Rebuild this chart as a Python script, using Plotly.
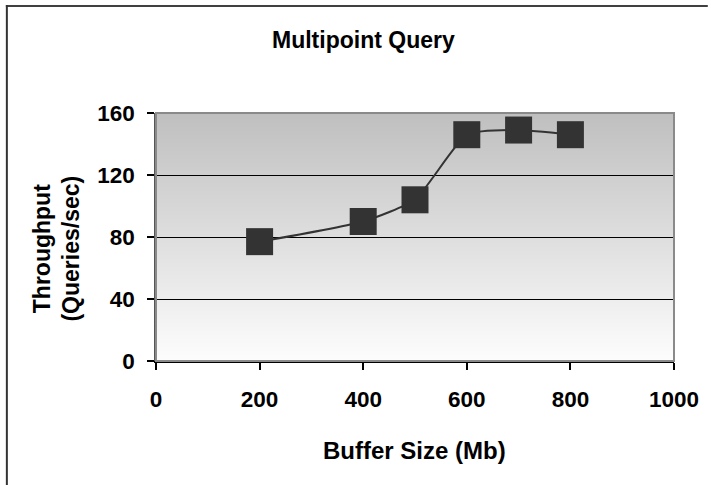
import plotly.graph_objects as go

buffer_mb = [200, 400, 500, 600, 700, 800]
throughput = [77, 90, 104, 146, 149, 146]
x_ticks = [0, 200, 400, 600, 800, 1000]
y_ticks = [0, 40, 80, 120, 160]

W, H = 711, 485
L, R, T, B = 156, 34, 113, 124
pw, ph = W - L - R, H - T - B

FONT = "Liberation Sans, Arial, sans-serif"


def px(xp):
    return (xp - L) / pw


def py(yp):
    return (H - B - yp) / ph


fig = go.Figure()
fig.add_trace(go.Scatter(
    x=buffer_mb, y=throughput, mode="lines+markers",
    line=dict(color="#333333", width=2, shape="spline", smoothing=0.5),
    marker=dict(symbol="square", size=27, color="#333333", line=dict(width=0)),
    showlegend=False,
))

shapes = []
# gradient background
n = 124
for i in range(n):
    f = i / (n - 1)
    v = int(round(253 - (253 - 191) * f))
    c = f"rgb({v},{v},{v})"
    shapes.append(dict(type="rect", xref="x domain", yref="y domain",
                       x0=0, x1=1, y0=i / n, y1=(i + 1) / n + 0.002,
                       fillcolor=c, line=dict(width=0), layer="below"))
# plot border
shapes.append(dict(type="rect", xref="paper", yref="paper", x0=0, x1=1, y0=0, y1=1,
                   line=dict(color="#8a8a8a", width=2), layer="above"))
# outer chart border (left and top visible) as thin filled bars
shapes.append(dict(type="rect", xref="paper", yref="paper",
                   x0=px(5), x1=px(W), y0=py(7), y1=py(5),
                   line=dict(width=0), fillcolor="#404040"))
shapes.append(dict(type="rect", xref="paper", yref="paper",
                   x0=px(5), x1=px(7), y0=py(H), y1=py(5),
                   line=dict(width=0), fillcolor="#333333"))

annotations = [
    dict(text="<b>Multipoint Query</b>", xref="paper", yref="paper",
         x=px(365), y=py(40), xanchor="center", yanchor="middle",
         showarrow=False, font=dict(size=23, color="black", family=FONT)),
    dict(text="<b>Buffer Size (Mb)</b>", xref="paper", yref="paper",
         x=px(416), y=py(450), xanchor="center", yanchor="middle",
         showarrow=False, font=dict(size=24, color="black", family=FONT)),
    dict(text="<b>Throughput<br>(Queries/sec)</b>", xref="paper", yref="paper",
         x=px(56), y=py(249), xanchor="center", yanchor="middle",
         textangle=-90, showarrow=False, font=dict(size=23, color="black", family=FONT)),
]

fig.update_layout(
    width=W, height=H,
    margin=dict(l=L, r=R, t=T, b=B, pad=0),
    paper_bgcolor="white", plot_bgcolor="white",
    font=dict(family=FONT, color="black", size=22),
    shapes=shapes, annotations=annotations,
    xaxis=dict(range=[0, 1000], tickvals=x_ticks, ticktext=[f"<b>{v}</b>" for v in x_ticks],
               showgrid=False, zeroline=False, showline=True, linecolor="black", linewidth=1.5,
               ticks="outside", ticklen=7, tickcolor="black", tickwidth=1.5,
               ticklabelstandoff=10, tickfont=dict(size=22.5, family=FONT)),
    yaxis=dict(range=[0, 160], tickvals=y_ticks, ticktext=[f"<b>{v}</b>" for v in y_ticks],
               showgrid=True, gridcolor="black", gridwidth=1.2, zeroline=False,
               showline=True, linecolor="#555555", linewidth=1.5,
               ticks="outside", ticklen=7, tickcolor="black", tickwidth=1.5,
               ticklabelstandoff=8, tickfont=dict(size=22.5, family=FONT)),
)

fig.write_html("out.html", config={"displayModeBar": False})
